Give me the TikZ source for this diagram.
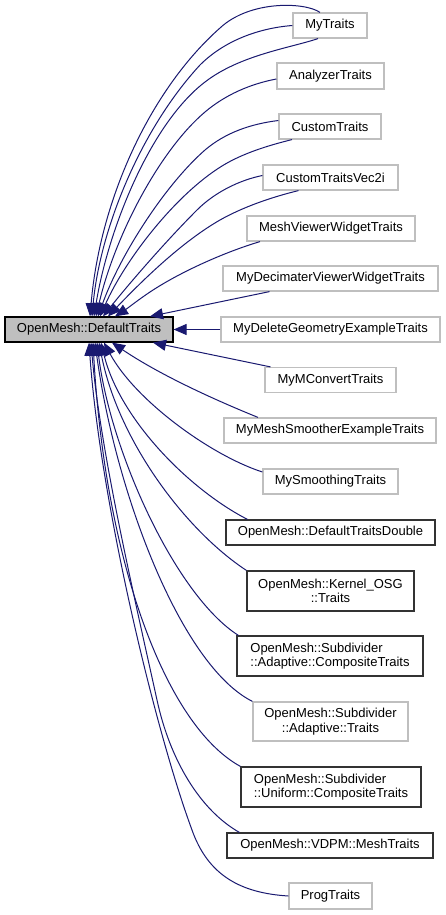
\documentclass[tikz,border=0pt]{standalone}
\usepackage{fontspec}
\setmainfont{Liberation Sans}
\usetikzlibrary{arrows.meta}
\definecolor{edgec}{RGB}{25,25,112}
\definecolor{lgray}{RGB}{191,191,191}
\definecolor{bgray}{RGB}{191,191,191}
\begin{document}
\begin{tikzpicture}[x=1pt,y=-1pt,
  every node/.style={font=\fontsize{13}{14.5}\selectfont, inner sep=0pt, minimum height=25pt},
  cls/.style={draw=lgray, line width=1.2pt, fill=white},
  clsb/.style={draw=black!80, line width=1.2pt, fill=white},
  edge/.style={draw=edgec, line width=1pt, -{Triangle[length=13pt,width=11pt]}},
]
\useasboundingbox (0,0) rectangle (445,915);
\fill[white] (0,0) rectangle (445,915);

\node[draw=black, line width=1.2pt, fill=bgray, minimum width=168pt] (dt) at (89,329.5) {OpenMesh::DefaultTraits};

\node[cls, minimum width=74pt] (mt) at (330,25.5) {MyTraits};
\node[cls, minimum width=107pt, minimum height=26pt] (an) at (330.5,76) {AnalyzerTraits};
\node[cls, minimum width=102pt] (cu) at (330,126.5) {CustomTraits};
\node[cls, minimum width=135pt] (v2) at (330.5,177.5) {CustomTraitsVec2i};
\node[cls, minimum width=168pt] (mv) at (331,228.5) {MeshViewerWidgetTraits};
\node[cls, minimum width=215pt] (md) at (330.5,278.5) {MyDecimaterViewerWidgetTraits};
\node[cls, minimum width=219pt] (dg) at (330.5,329.5) {MyDeleteGeometryExampleTraits};
\node[cls, minimum width=131pt] (mc) at (330.5,380) {MyMConvertTraits};
\node[cls, minimum width=212pt] (ms) at (330,430.5) {MyMeshSmootherExampleTraits};
\node[cls, minimum width=135pt] (sm) at (330.5,481.5) {MySmoothingTraits};
\node[clsb, minimum width=209pt] (dd) at (330.5,532.5) {OpenMesh::DefaultTraitsDouble};
\node[clsb, minimum width=167pt, minimum height=40pt, align=center] (ko) at (330.5,591) {OpenMesh::Kernel\_OSG\\::Traits};
\node[clsb, minimum width=186pt, minimum height=40pt, align=left] (ac) at (330,656) {OpenMesh::Subdivider\\::Adaptive::CompositeTraits};
\node[cls, minimum width=155pt, minimum height=39pt, align=center] (at) at (330.5,721.5) {OpenMesh::Subdivider\\::Adaptive::Traits};
\node[clsb, minimum width=180pt, minimum height=40pt, align=left] (uc) at (331,787) {OpenMesh::Subdivider\\::Uniform::CompositeTraits};
\node[clsb, minimum width=206pt] (vd) at (330,845.5) {OpenMesh::VDPM::MeshTraits};
\node[cls, minimum width=83pt, minimum height=26pt] (pt) at (330.5,896) {ProgTraits};

% edges to the top of DefaultTraits
\draw[edge] ([xshift=-10pt]mt.north) .. controls (305,2) and (250,0) .. (220,28) .. controls (150,90) and (100,200) .. ([xshift=1pt]dt.north);
\draw[edge] (mt.west) .. controls (260,28) and (225,40) .. (200,65) .. controls (140,130) and (100,230) .. ([xshift=3pt]dt.north);
\draw[edge] ([xshift=-12pt]mt.south) .. controls (290,48) and (240,55) .. (205,82) .. controls (150,124) and (108,230) .. ([xshift=5pt]dt.north);
\draw[edge] ([yshift=-3pt]an.west) .. controls (250,84) and (225,95) .. (205,112) .. controls (160,150) and (115,235) .. ([xshift=7pt]dt.north);
\draw[edge] ([yshift=6pt]cu.west) .. controls (250,124) and (225,133) .. (205,150) .. controls (165,185) and (120,255) .. ([xshift=9pt]dt.north);
\draw[edge] ([xshift=-38pt]cu.south) .. controls (270,145) and (243,153) .. (222,166) .. controls (175,195) and (125,260) .. ([xshift=11pt]dt.north);
\draw[edge] ([yshift=2pt]v2.west) .. controls (240,180) and (215,192) .. (197,210) .. controls (165,242) and (128,285) .. ([xshift=14pt]dt.north);
\draw[edge] ([xshift=-32pt]v2.south) .. controls (272,197) and (243,207) .. (220,220) .. controls (180,243) and (140,283) .. ([xshift=19pt]dt.north);
\draw[edge] ([xshift=-71pt]mv.south) .. controls (225,252) and (180,272) .. (150,292) .. controls (138,300) and (128,308) .. ([xshift=26pt]dt.north);
\draw[edge] ([xshift=-61pt]md.south) -- ([xshift=61pt]dt.north);
\draw[edge] (dg.west) -- (dt.east);
% edges to the bottom of DefaultTraits
\draw[edge] ([xshift=-60pt]mc.north) -- ([xshift=64pt]dt.south);
\draw[edge] ([xshift=-72pt]ms.north) .. controls (215,400) and (160,375) .. ([xshift=23pt]dt.south);
\draw[edge] ([yshift=9.5pt]sm.west) .. controls (210,455) and (135,400) .. ([xshift=15pt]dt.south);
\draw[edge] ([xshift=-83pt]dd.north) .. controls (190,490) and (120,420) .. ([xshift=12pt]dt.south);
\draw[edge] (ko.north west) .. controls (185,530) and (118,440) .. ([xshift=10pt]dt.south);
\draw[edge] ([xshift=2pt]ac.north west) .. controls (175,595) and (110,450) .. ([xshift=8pt]dt.south);
\draw[edge] (at.north west) .. controls (180,665) and (115,490) .. ([xshift=6pt]dt.south);
\draw[edge] (uc.north west) .. controls (165,725) and (105,560) .. ([xshift=4pt]dt.south);
\draw[edge] ([xshift=13pt]vd.north west) .. controls (200,810) and (170,760) .. (157,700) .. controls (135,600) and (100,450) .. ([xshift=2pt]dt.south);
\draw[edge] (pt.west) .. controls (240,893) and (208,875) .. (192,830) .. controls (155,730) and (100,500) .. (dt.south);
\end{tikzpicture}
\end{document}
